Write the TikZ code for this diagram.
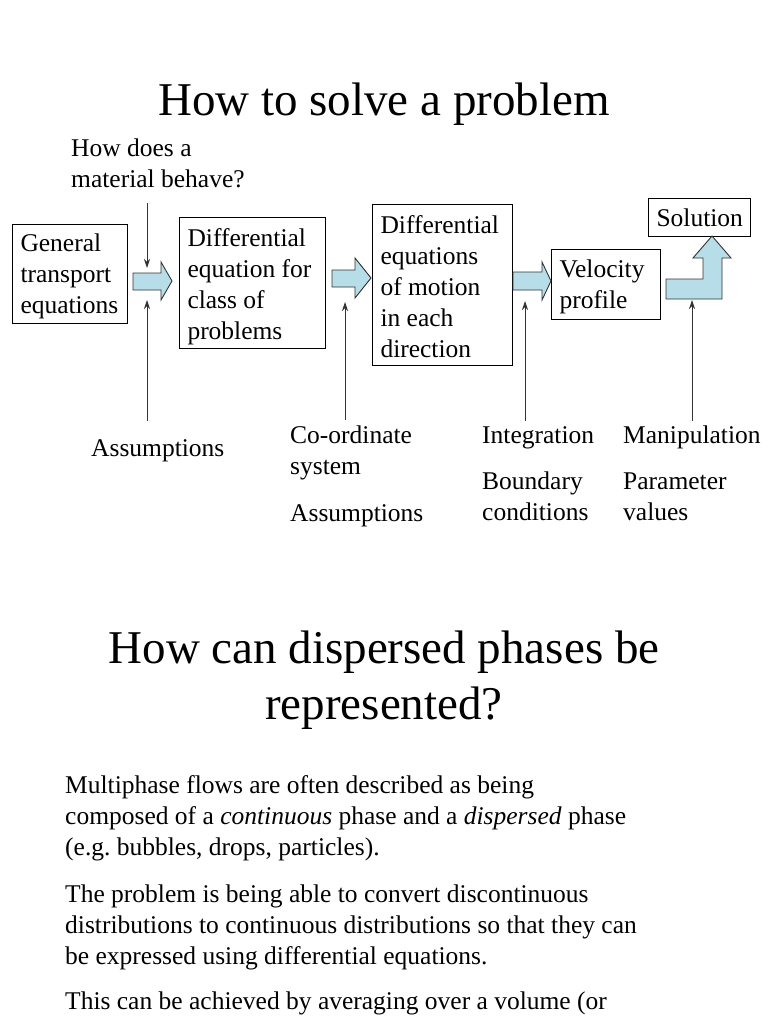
\documentclass[tikz,border=0pt]{standalone}
\usepackage{fontspec}
\setmainfont{Liberation Serif}
\usetikzlibrary{arrows.meta}
\definecolor{arrowfill}{HTML}{B7DDE8}
\definecolor{edgegray}{HTML}{333333}
\newcommand{\bodyfont}{\fontsize{25.5}{31}\selectfont}
\newcommand{\titlefont}{\fontsize{47}{49}\selectfont}
\newcommand{\titlefontb}{\fontsize{47}{56}\selectfont}
\newcommand{\topgap}[1]{\rule{0pt}{#1}}
\begin{document}
\begin{tikzpicture}[x=1pt,y=-1pt,
  every node/.style={inner sep=0pt, font=\bodyfont},
  stepbox/.style={draw=black, line width=1pt, inner xsep=8pt, inner ysep=0pt, align=flush left, anchor=north west},
  lbl/.style={anchor=west, align=flush left},
  blockarrow/.style={draw=edgegray, line width=0.9pt, fill=arrowfill, line join=miter},
  thinarrow/.style={draw=edgegray, line width=0.9pt, -{Stealth[length=9pt,width=6pt]}},
]
\useasboundingbox[fill=white] (0,0) rectangle (768,1024);

% title
\node[font=\titlefont, anchor=base] (title) at (384,116) {How to solve a problem};

% boxes
\node[stepbox, text width=99pt, minimum height=99pt] (gen) at (12,224) {\topgap{22pt}General\\transport\\equations};
\node[stepbox, text width=130pt, minimum height=131pt] (deq) at (179,217) {\topgap{25pt}Differential\\equation for\\class of\\problems};
\node[stepbox, text width=124pt, minimum height=161pt] (mot) at (372,204) {\topgap{22pt}Differential\\equations\\of motion\\in each\\direction};
\node[stepbox, text width=93pt, minimum height=70pt] (vel) at (551,249) {\topgap{23pt}Velocity\\profile};
\node[stepbox, text width=86pt, minimum height=38pt] (sol) at (648,198) {Solution};

% block arrows
\draw[blockarrow] (133,273) -- (161,273) -- (161,262) -- (172,281) -- (161,300) -- (161,290) -- (133,290) -- cycle;
\draw[blockarrow] (332,270) -- (355,270) -- (355,258) -- (371,278) -- (355,298) -- (355,287) -- (332,287) -- cycle;
\draw[blockarrow] (513,272) -- (542,272) -- (542,262) -- (551,281) -- (542,300) -- (542,290) -- (513,290) -- cycle;
\draw[blockarrow] (666,279) -- (703,279) -- (703,258) -- (693,258) -- (712,236) -- (731,258) -- (722,258) -- (722,299) -- (666,299) -- cycle;

% labels
\node[lbl] (behave) at (71,163) {How does a\\material behave?};
\node[anchor=base west] (ass1) at (91,456) {Assumptions};
\node[lbl] (coord) at (290,452.5) {Co-ordinate\\system};
\node[anchor=base west] (ass2) at (290,521) {Assumptions};
\node[anchor=base west] (integ) at (482,443) {Integration};
\node[lbl] (bound) at (482,496) {Boundary\\conditions};
\node[anchor=base west] (manip) at (623,443) {Manipulation};
\node[lbl] (param) at (623,497) {Parameter\\values};

% thin arrows
\coordinate (b1) at (147,203);
\coordinate (b2) at (147,268);
\draw[thinarrow] (b1) -- (b2);
\coordinate (a1) at (147,421);
\coordinate (a1t) at (147,300);
\draw[thinarrow] (a1) -- (a1t);
\coordinate (c1) at (345,420);
\coordinate (c1t) at (345,302);
\draw[thinarrow] (c1) -- (c1t);
\coordinate (i1) at (525,421);
\coordinate (i1t) at (525,301);
\draw[thinarrow] (i1) -- (i1t);
\coordinate (m1) at (692,421);
\coordinate (m1t) at (692,300);
\draw[thinarrow] (m1) -- (m1t);

% second title
\node[font=\titlefontb, align=center] (title2) at (384,680) {How can dispersed phases be\\represented?};

% paragraphs
\node[lbl] (p1) at (65,818) {Multiphase flows are often described as being\\composed of a \textit{continuous} phase and a \textit{dispersed} phase\\(e.g.\ bubbles, drops, particles).};
\node[lbl] (p2) at (65,927) {The problem is being able to convert discontinuous\\distributions to continuous distributions so that they can\\be expressed using differential equations.};
\node[anchor=base west] (p3) at (65,1009) {This can be achieved by averaging over a volume (or};
\end{tikzpicture}
\end{document}
